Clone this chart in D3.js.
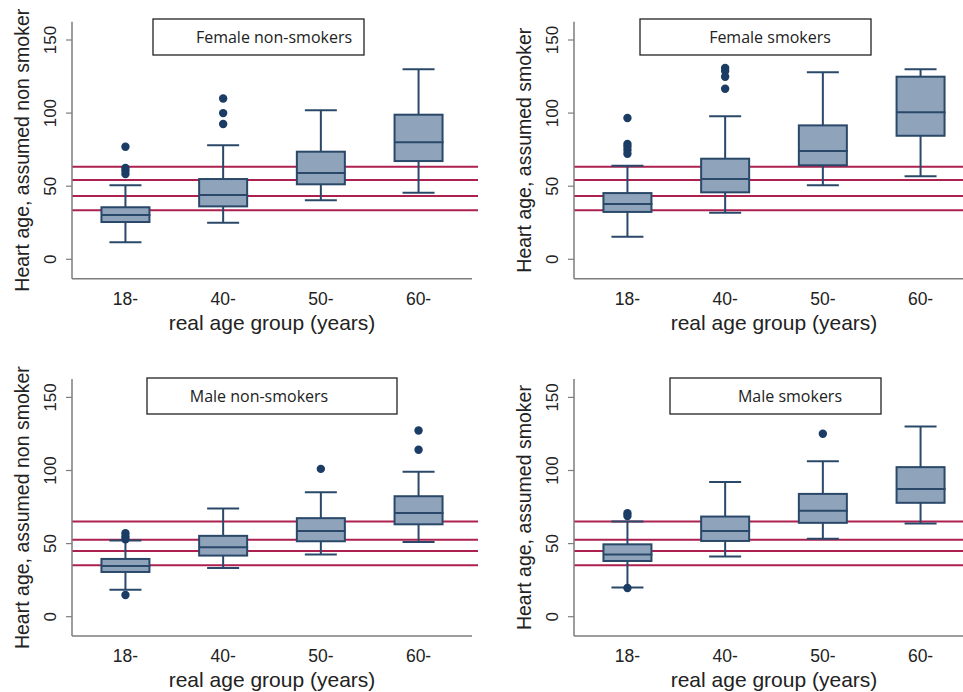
<!DOCTYPE html>
<html>
<head>
<meta charset="utf-8">
<script src="https://cdn.jsdelivr.net/npm/d3@7"></script>
<style>
  body { margin: 0; background: #fff; }
  svg { display: block; }
  text { font-family: "Liberation Sans", Arial, sans-serif; fill: #222; }
  .legend text { font-family: "Open Sans", sans-serif; }
</style>
</head>
<body>
<div id="chart"></div>
<script>
// age groups on the x axis
const ageGroups = ["18-", "40-", "50-", "60-"];
const yTicks = [0, 50, 100, 150];

// box stats per age group: [lower whisker, q1, median, q3, upper whisker]
const femaleNonSmokers = [
  [11.6, 25.5, 30.3, 35.6, 50.6],
  [25.0, 36.2, 44.0, 54.9, 78.0],
  [40.4, 51.3, 59.0, 73.6, 101.9],
  [45.6, 67.2, 80.0, 98.9, 130.0]
];
const femaleNonSmokersOut = [[77, 62.5, 60.5, 58.3], [110, 100, 92.5], [], []];

const femaleSmokers = [
  [15.5, 32.4, 37.8, 45.3, 64.0],
  [31.9, 45.8, 54.9, 68.8, 97.8],
  [50.6, 64.3, 74.1, 91.6, 127.9],
  [56.8, 84.5, 100.5, 124.9, 130.0]
];
const femaleSmokersOut = [[96.6, 78.9, 77, 74.8, 72.2], [130.8, 128.8, 124.9, 116.7], [], []];

const maleNonSmokers = [
  [18.5, 30.6, 34.7, 39.5, 52.1],
  [33.3, 41.8, 47.5, 55.3, 74.0],
  [42.5, 51.6, 58.7, 67.4, 85.2],
  [51.1, 63.2, 71.0, 82.4, 99.1]
];
const maleNonSmokersOut = [[57.1, 54.8, 53, 14.8], [], [101.1], [127.4, 114.2]];

const maleSmokers = [
  [20.0, 38.1, 42.5, 49.5, 65.1],
  [41.1, 51.8, 58.7, 68.5, 92.2],
  [53.4, 64.2, 72.4, 84.0, 106.4],
  [63.7, 77.9, 87.4, 102.3, 130.1]
];
const maleSmokersOut = [[70.8, 68.9, 19.6], [], [125.1], []];

// horizontal reference lines (red)
const femaleRefLines = [63.3, 54.2, 43.3, 33.5];
const maleRefLines = [65.1, 52.7, 45.0, 35.2];

const panelTitles = ["Female non-smokers", "Female smokers", "Male non-smokers", "Male smokers"];
const yTitles = ["Heart age, assumed non smoker", "Heart age, assumed smoker",
                 "Heart age, assumed non smoker", "Heart age, assumed smoker"];

const panels = [
  { title: panelTitles[0], yTitle: yTitles[0], stats: femaleNonSmokers, out: femaleNonSmokersOut, refs: femaleRefLines },
  { title: panelTitles[1], yTitle: yTitles[1], stats: femaleSmokers, out: femaleSmokersOut, refs: femaleRefLines },
  { title: panelTitles[2], yTitle: yTitles[2], stats: maleNonSmokers, out: maleNonSmokersOut, refs: maleRefLines },
  { title: panelTitles[3], yTitle: yTitles[3], stats: maleSmokers, out: maleSmokersOut, refs: maleRefLines }
];

// layout (pixels)
const W = 963, H = 692;
const offsets = [[0, 0], [502, 0], [0, 357.4], [502, 357.4]];
const legendBoxes = [
  { x: 153, w: 211, y: 19, tx: 274 },
  { x: 138, w: 231, y: 19, tx: 268 },
  { x: 147, w: 250, y: 20.6, tx: 259 },
  { x: 168, w: 211, y: 20.6, tx: 288 }
];
const axisX = 72, plotRight = 472, axisTop = 21.7, axisBottom = 278.7;
const boxW = 48, capW = 32;
const navy = "#2a4869", fill = "#8fa3bb", dot = "#1b3c64", red = "#ad2150", axisCol = "#7d7d7d";

const svg = d3.select("#chart").append("svg")
  .attr("width", W)
  .attr("height", H);

const y = d3.scaleLinear().domain([0, 150]).range([259.3, 40]);
const x = d3.scalePoint().domain(ageGroups).range([axisX, plotRight]).padding(0.547);

panels.forEach((p, i) => {
  const g = svg.append("g").attr("transform", `translate(${offsets[i][0]},${offsets[i][1]})`);

  // reference lines
  g.selectAll(".ref")
    .data(p.refs)
    .enter().append("line")
    .attr("x1", axisX).attr("x2", plotRight + 6)
    .attr("y1", d => y(d)).attr("y2", d => y(d))
    .attr("stroke", red).attr("stroke-width", 2);

  // axes
  g.append("line")
    .attr("x1", axisX).attr("x2", axisX)
    .attr("y1", axisTop).attr("y2", axisBottom)
    .attr("stroke", axisCol).attr("stroke-width", 1.5);
  g.append("line")
    .attr("x1", axisX).attr("x2", plotRight)
    .attr("y1", axisBottom).attr("y2", axisBottom)
    .attr("stroke", axisCol).attr("stroke-width", 1.5);

  g.selectAll(".ytick")
    .data(yTicks)
    .enter().append("line")
    .attr("x1", axisX - 6).attr("x2", axisX)
    .attr("y1", d => y(d)).attr("y2", d => y(d))
    .attr("stroke", axisCol).attr("stroke-width", 1.2);

  g.selectAll(".ylab")
    .data(yTicks)
    .enter().append("text")
    .attr("transform", d => `translate(56,${y(d)}) rotate(-90)`)
    .attr("text-anchor", "middle")
    .style("font-size", "17px")
    .text(d => d);

  g.append("text")
    .attr("transform", `translate(29,${(axisTop + axisBottom) / 2}) rotate(-90)`)
    .attr("text-anchor", "middle")
    .style("font-size", "19.5px")
    .text(p.yTitle);

  g.selectAll(".xlab")
    .data(ageGroups)
    .enter().append("text")
    .attr("x", d => x(d)).attr("y", 305)
    .attr("text-anchor", "middle")
    .style("font-size", "17.5px")
    .text(d => d);

  g.append("text")
    .attr("x", (axisX + plotRight) / 2).attr("y", 330)
    .attr("text-anchor", "middle")
    .style("font-size", "21px")
    .text("real age group (years)");

  // boxes
  const box = g.selectAll(".box")
    .data(p.stats.map((s, k) => ({ cat: ageGroups[k], s: s, out: p.out[k] })))
    .enter().append("g");

  box.append("line")
    .attr("x1", d => x(d.cat)).attr("x2", d => x(d.cat))
    .attr("y1", d => y(d.s[0])).attr("y2", d => y(d.s[4]))
    .attr("stroke", navy).attr("stroke-width", 2);
  box.append("line")
    .attr("x1", d => x(d.cat) - capW / 2).attr("x2", d => x(d.cat) + capW / 2)
    .attr("y1", d => y(d.s[0])).attr("y2", d => y(d.s[0]))
    .attr("stroke", navy).attr("stroke-width", 2);
  box.append("line")
    .attr("x1", d => x(d.cat) - capW / 2).attr("x2", d => x(d.cat) + capW / 2)
    .attr("y1", d => y(d.s[4])).attr("y2", d => y(d.s[4]))
    .attr("stroke", navy).attr("stroke-width", 2);
  box.append("rect")
    .attr("x", d => x(d.cat) - boxW / 2)
    .attr("y", d => y(d.s[3]))
    .attr("width", boxW)
    .attr("height", d => y(d.s[1]) - y(d.s[3]))
    .attr("fill", fill).attr("stroke", navy).attr("stroke-width", 2);
  box.append("line")
    .attr("x1", d => x(d.cat) - boxW / 2).attr("x2", d => x(d.cat) + boxW / 2 + 1)
    .attr("y1", d => y(d.s[2])).attr("y2", d => y(d.s[2]))
    .attr("stroke", navy).attr("stroke-width", 2);

  box.each(function (d) {
    d3.select(this).selectAll("circle")
      .data(d.out)
      .enter().append("circle")
      .attr("cx", x(d.cat)).attr("cy", v => y(v))
      .attr("r", 4.2)
      .attr("fill", dot);
  });

  // panel label box
  const lb = legendBoxes[i];
  const leg = g.append("g").attr("class", "legend");
  leg.append("rect")
    .attr("x", lb.x).attr("y", lb.y)
    .attr("width", lb.w).attr("height", 36)
    .attr("fill", "#fff").attr("stroke", "#222").attr("stroke-width", 1.3);
  leg.append("text")
    .attr("x", lb.tx).attr("y", lb.y + 24)
    .attr("text-anchor", "middle")
    .style("font-size", "16px")
    .text(p.title);
});
</script>
</body>
</html>
